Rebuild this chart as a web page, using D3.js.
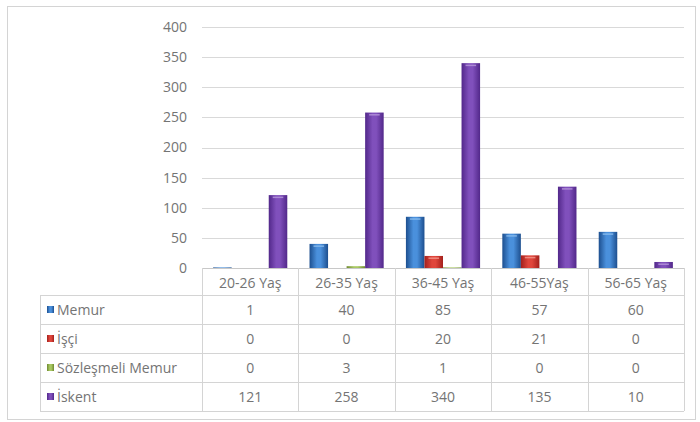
<!DOCTYPE html>
<html>
<head>
<meta charset="utf-8">
<script src="https://cdn.jsdelivr.net/npm/d3@7"></script>
<style>
  html, body { margin: 0; padding: 0; background: #fff; }
  svg { display: block; }
  text { font-family: "Open Sans", "Liberation Sans", sans-serif; fill: #747474; }
</style>
</head>
<body>
<svg id="chart" width="700" height="422"></svg>
<script>
const categories = ["20-26 Yaş", "26-35 Yaş", "36-45 Yaş", "46-55Yaş", "56-65 Yaş"];
const seriesNames = ["Memur", "İşçi", "Sözleşmeli Memur", "İskent"];
const memur = [1, 40, 85, 57, 60];
const isci = [0, 0, 20, 21, 0];
const sozlesmeliMemur = [0, 3, 1, 0, 0];
const iskent = [121, 258, 340, 135, 10];
const yTicks = [0, 50, 100, 150, 200, 250, 300, 350, 400];

const seriesValues = [memur, isci, sozlesmeliMemur, iskent];
const colors = [
  { edge: "#1d4f8f", mid: "#4a90dc", light: "#8fc0f0" },
  { edge: "#a3201c", mid: "#e0463c", light: "#f49a90" },
  { edge: "#6f8a30", mid: "#a9c963", light: "#d4e8a8" },
  { edge: "#52288a", mid: "#8050bc", light: "#b898dc" }
];

const svg = d3.select("#chart");
const defs = svg.append("defs");
colors.forEach((c, i) => {
  const g = defs.append("linearGradient").attr("id", "grad" + i)
    .attr("x1", "0%").attr("x2", "100%").attr("y1", "0%").attr("y2", "0%");
  g.append("stop").attr("offset", "0%").attr("stop-color", c.edge);
  g.append("stop").attr("offset", "40%").attr("stop-color", c.mid);
  g.append("stop").attr("offset", "60%").attr("stop-color", c.mid);
  g.append("stop").attr("offset", "100%").attr("stop-color", c.edge);
});

// outer frame
svg.append("rect").attr("x", 7.5).attr("y", 6.5).attr("width", 688).attr("height", 413)
  .attr("fill", "#fff").attr("stroke", "#d4d4d4").attr("stroke-width", 1);

const plotLeft = 202, plotRight = 684, plotTop = 27, plotBottom = 268;
const x0 = d3.scaleBand().domain(categories).range([plotLeft, plotRight]).padding(0);
const x1 = d3.scaleBand().domain(seriesNames).range([0, x0.bandwidth()]).paddingInner(0).paddingOuter(0.6);
const y = d3.scaleLinear().domain([0, 400]).range([plotBottom, plotTop]);

// gridlines
svg.append("g").selectAll("line").data(yTicks.filter(t => t > 0)).join("line")
  .attr("x1", plotLeft).attr("x2", plotRight)
  .attr("y1", d => Math.round(y(d)) + 0.5).attr("y2", d => Math.round(y(d)) + 0.5)
  .attr("stroke", "#d9d9d9").attr("stroke-width", 1);

// y axis labels
const yAxis = d3.axisLeft(y).tickValues(yTicks).tickSize(0).tickPadding(0);
const ya = svg.append("g").attr("transform", `translate(187,0)`).call(yAxis);
ya.select(".domain").remove();
ya.selectAll("text").attr("font-size", 14).attr("fill", "#747474")
  .style("font-family", '"Open Sans", sans-serif');

// bars
const groups = svg.append("g").selectAll("g").data(seriesNames).join("g");
groups.each(function(name, si) {
  const vals = seriesValues[si];
  const g = d3.select(this);
  g.selectAll("rect").data(categories).join("rect")
    .attr("x", (c) => x0(c) + x1(name))
    .attr("width", x1.bandwidth())
    .attr("y", (c, ci) => y(vals[ci]))
    .attr("height", (c, ci) => plotBottom - y(vals[ci]))
    .attr("fill", `url(#grad${si})`);
  // top highlight
  g.selectAll("rect.hl").data(categories.filter((c, ci) => vals[ci] >= 5)).join("rect")
    .attr("class", "hl")
    .attr("x", (c) => x0(c) + x1(name) + 4)
    .attr("width", x1.bandwidth() - 8)
    .attr("y", (c) => y(vals[categories.indexOf(c)]) + 1.5)
    .attr("height", 1.5)
    .attr("fill", colors[si].light).attr("opacity", 0.8);
});

// data table
const tableLeft = 40;
const headerTop = 268, rowTop = 295, rowH = 29;
const rowsBottom = rowTop + rowH * seriesNames.length;
const lineColor = "#d4d4d4";
const tbl = svg.append("g");

tbl.append("line").attr("x1", plotLeft).attr("x2", plotRight)
  .attr("y1", headerTop + 0.5).attr("y2", headerTop + 0.5).attr("stroke", "#c8c8c8");
d3.range(seriesNames.length + 1).forEach(i => {
  tbl.append("line").attr("x1", tableLeft).attr("x2", plotRight)
    .attr("y1", rowTop + i * rowH + 0.5).attr("y2", rowTop + i * rowH + 0.5)
    .attr("stroke", lineColor);
});
tbl.append("line").attr("x1", tableLeft + 0.5).attr("x2", tableLeft + 0.5)
  .attr("y1", rowTop).attr("y2", rowsBottom).attr("stroke", lineColor);
const colEdges = categories.map(c => x0(c)).concat([plotRight]);
colEdges.forEach(xe => {
  tbl.append("line").attr("x1", Math.round(xe) + 0.5).attr("x2", Math.round(xe) + 0.5)
    .attr("y1", headerTop).attr("y2", rowsBottom).attr("stroke", lineColor);
});

tbl.selectAll("text.hdr").data(categories).join("text").attr("class", "hdr")
  .attr("x", c => x0(c) + x0.bandwidth() / 2).attr("y", headerTop + 14)
  .attr("text-anchor", "middle").attr("dominant-baseline", "central")
  .attr("font-size", 14).text(c => c);

seriesNames.forEach((name, si) => {
  const cy = rowTop + si * rowH + rowH / 2;
  tbl.append("rect").attr("x", 47).attr("y", cy - 3.5).attr("width", 7).attr("height", 7)
    .attr("fill", `url(#grad${si})`);
  tbl.append("text").attr("x", 57).attr("y", cy).attr("dominant-baseline", "central")
    .attr("font-size", 14).text(name);
  tbl.selectAll(null).data(categories).join("text")
    .attr("x", c => x0(c) + x0.bandwidth() / 2).attr("y", cy)
    .attr("text-anchor", "middle").attr("dominant-baseline", "central")
    .attr("font-size", 14).text((c, ci) => seriesValues[si][ci]);
});
</script>
</body>
</html>
